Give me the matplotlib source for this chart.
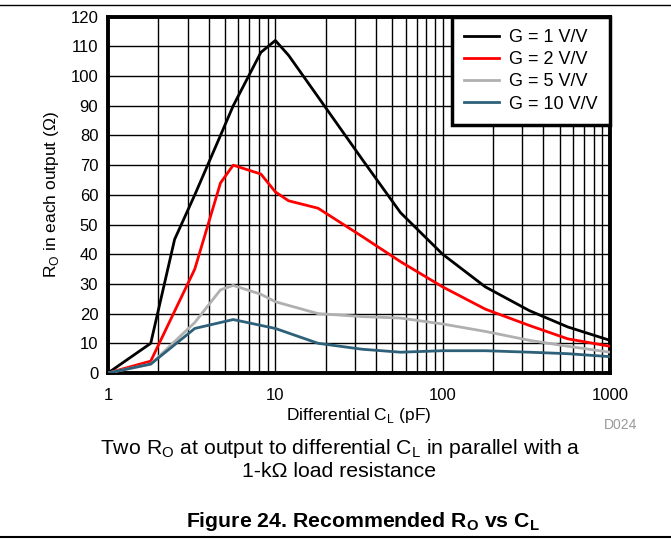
import matplotlib
matplotlib.use('Agg')
import matplotlib.pyplot as plt
from matplotlib.ticker import FixedLocator, NullFormatter

plt.rcParams['font.family'] = ['Liberation Sans', 'DejaVu Sans']

# G = 1 V/V
cl_g1 = [1, 1.8, 2.5, 3.3, 4.7, 5.6, 8.2, 10, 12, 18, 33, 56, 100, 180, 330, 560, 1000]
ro_g1 = [0, 10, 45, 60, 80, 90, 108, 112, 107, 93, 72, 54, 40, 29, 21, 15.5, 11]
# G = 2 V/V
cl_g2 = [1, 1.8, 3.3, 4.7, 5.6, 8.2, 10, 12, 18, 33, 56, 100, 180, 330, 560, 1000]
ro_g2 = [0, 4, 35, 64, 70, 67, 61, 58, 55.5, 46, 37.5, 29, 21.5, 16, 11.5, 9]
# G = 5 V/V
cl_g5 = [1, 1.8, 3.3, 4.7, 5.6, 8.2, 10, 18, 33, 56, 100, 180, 330, 560, 1000]
ro_g5 = [0, 3, 17, 28, 29.5, 26.5, 24, 20, 19, 18.5, 16.5, 14, 11, 9, 7]
# G = 10 V/V
cl_g10 = [1, 1.8, 3.3, 5.6, 10, 18, 33, 56, 100, 180, 330, 560, 1000]
ro_g10 = [0, 3, 15, 18, 15, 10, 8, 7, 7.5, 7.5, 7, 6.5, 5.5]

labels = ['G = 1 V/V', 'G = 2 V/V', 'G = 5 V/V', 'G = 10 V/V']
colors = ['#000000', '#ff0000', '#b0b0b0', '#2e6179']

fig = plt.figure(figsize=(6.71, 5.39), dpi=100)
ax = fig.add_axes([0.161, 0.308, 0.748, 0.661])

for xs, ys, lab, col in zip([cl_g1, cl_g2, cl_g5, cl_g10],
                            [ro_g1, ro_g2, ro_g5, ro_g10], labels, colors):
    ax.plot(xs, ys, color=col, lw=2, label=lab, zorder=3)

ax.set_xscale('log')
ax.set_xlim(1, 1000)
ax.set_ylim(0, 120)
ax.set_yticks(range(0, 121, 10))
ax.set_xticks([1, 10, 100, 1000])
ax.set_xticklabels(['1', '10', '100', '1000'])
minors = [m * d for d in [1, 10, 100] for m in range(2, 10)]
ax.xaxis.set_minor_locator(FixedLocator(minors))
ax.xaxis.set_minor_formatter(NullFormatter())
ax.grid(True, which='both', color='black', lw=1)
ax.tick_params(which='both', length=0, labelsize=12, pad=7)
ax.tick_params(axis='x', pad=11)
for s in ax.spines.values():
    s.set_linewidth(2.8)

ax.set_xlabel('Differential C$_\\mathregular{L}$ (pF)', fontsize=12.5, labelpad=2)
ax.set_ylabel('R$_\\mathregular{O}$ in each output (\u03a9)', fontsize=12.5, labelpad=7)

leg = ax.legend(loc='upper right', fontsize=13, frameon=True, fancybox=False,
                borderaxespad=0, handlelength=1.9, labelspacing=0.28,
                borderpad=0.7, handletextpad=0.55)
leg.get_frame().set_edgecolor('black')
leg.get_frame().set_linewidth(2.5)
leg.get_frame().set_alpha(1)

fig.text(0.925, 0.204, 'D024', fontsize=10, color='#999999', ha='center')
fig.text(0.507, 0.157, 'Two R$_\\mathregular{O}$ at output to differential C$_\\mathregular{L}$ in parallel with a',
         fontsize=15.3, ha='center')
fig.text(0.505, 0.115, '1-k\u03a9 load resistance', fontsize=15.3, ha='center')
fig.text(0.541, 0.023, 'Figure 24. Recommended R$_\\mathregular{O}$ vs C$_\\mathregular{L}$',
         fontsize=15.3, fontweight='bold', ha='center')

fig.add_artist(plt.Line2D([0, 1], [0.991, 0.991], color='black', lw=1))
fig.add_artist(plt.Line2D([0, 1], [0.004, 0.004], color='black', lw=1.5))

fig.savefig('out.png', dpi=100)
